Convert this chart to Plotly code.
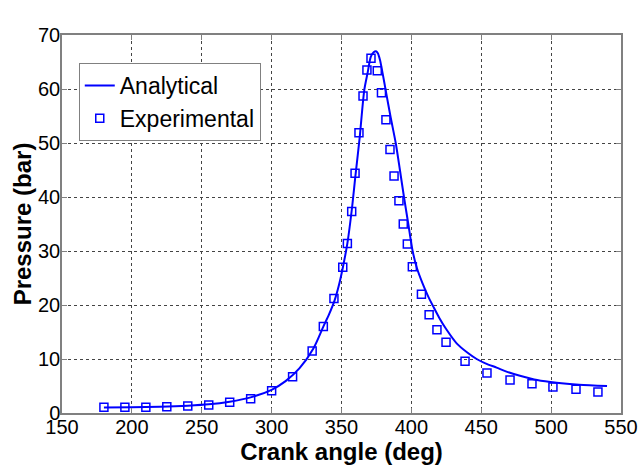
import plotly.graph_objects as go

# Analytical curve
ana_angle = [180, 200, 220, 240, 255, 270, 285, 300, 310, 320, 330, 337, 341, 345, 348,
             351, 354.2, 357.3, 360, 363, 366.3, 368.7, 371, 373, 374.7, 376, 377.5,
             379.5, 381.6, 385, 388.8, 391.8, 394.7, 397.8, 400.9, 404, 408, 412, 415.7,
             420, 425, 432.4, 440, 446.7, 453, 461, 470, 477.7, 490, 504, 520, 540]
ana_pressure = [1.0, 1.05, 1.15, 1.35, 1.6, 2.1, 2.9, 4.3, 5.9, 8.3, 12.0, 16.0, 18.2, 20.8, 23.5,
                27.0, 31.4, 37.5, 44.0, 51.0, 59.8, 63.0, 66.0, 66.8, 67.0, 66.6, 65.4,
                62.8, 59.8, 55.0, 50.0, 45.0, 40.0, 35.0, 30.0, 26.8, 24.0, 21.6, 19.7,
                17.6, 15.5, 12.9, 11.2, 10.0, 9.2, 8.4, 7.5, 6.9, 6.1, 5.6, 5.25, 5.0]

# Experimental points
exp_angle = [180, 195, 210, 225, 240, 255, 270, 285, 300, 315, 329, 337, 344.6, 350.9,
             354.2, 357.3, 359.7, 362.5, 365.4, 368.2, 371.1, 375.6, 378.6, 381.8, 384.7,
             387.6, 391.1, 394.2, 397.1, 400.7, 407.2, 412.7, 418.3, 424.8, 438.4, 454.1,
             470.6, 486.3, 501.3, 517.8, 533.5]
exp_pressure = [1.05, 1.05, 1.05, 1.15, 1.3, 1.5, 2.0, 2.65, 4.1, 6.7, 11.5, 16.0, 21.2, 27.0,
                31.4, 37.3, 44.4, 51.9, 58.7, 63.5, 65.7, 63.4, 59.3, 54.3, 48.8,
                43.9, 39.3, 35.0, 31.3, 27.1, 22.0, 18.2, 15.4, 13.1, 9.6, 7.4,
                6.1, 5.4, 4.8, 4.4, 3.9]

x_ticks = [150, 200, 250, 300, 350, 400, 450, 500, 550]
y_ticks = [0, 10, 20, 30, 40, 50, 60, 70]

BLUE = "#0000ff"
FONT = "Liberation Sans, Arial, sans-serif"

fig = go.Figure()
fig.add_trace(go.Scatter(
    x=ana_angle, y=ana_pressure, mode="lines", name="Analytical",
    line=dict(color=BLUE, width=2, shape="spline", smoothing=0.8),
))
fig.add_trace(go.Scatter(
    x=exp_angle, y=exp_pressure, mode="markers", name="Experimental",
    marker=dict(symbol="square-open", color=BLUE, size=8, line=dict(width=1.5, color=BLUE)),
))

axis_common = dict(
    showgrid=True, gridcolor="#444444", griddash="dot", gridwidth=1,
    showline=True, linecolor="#808080", linewidth=1.5, mirror="ticks",
    ticks="inside", ticklen=5, tickcolor="#808080",
    tickfont=dict(family=FONT, size=20, color="black"),
    zeroline=False, automargin=False,
)

fig.update_layout(
    width=640, height=468,
    margin=dict(l=62, r=19, t=35, b=55),
    paper_bgcolor="white", plot_bgcolor="white",
    font=dict(family=FONT, color="black"),
    showlegend=True,
    legend=dict(
        x=0.03, y=0.926, xanchor="left", yanchor="top",
        bgcolor="white", bordercolor="#808080", borderwidth=1,
        font=dict(family=FONT, size=23, color="black"),
        itemwidth=30, tracegroupgap=0,
    ),
)
fig.update_xaxes(
    range=[150, 550], tickvals=x_ticks, ticktext=[str(v) for v in x_ticks],
    ticklabelstandoff=-5,
    title=dict(text="<b>Crank angle (deg)</b>", font=dict(family=FONT, size=24), standoff=0),
    **axis_common,
)
fig.update_yaxes(
    range=[0, 70], tickvals=y_ticks, ticktext=[str(v) for v in y_ticks],
    ticklabelstandoff=-4,
    title=dict(text="<b>Pressure (bar)</b>", font=dict(family=FONT, size=24), standoff=0),
    **axis_common,
)

fig.write_html("out.html")
